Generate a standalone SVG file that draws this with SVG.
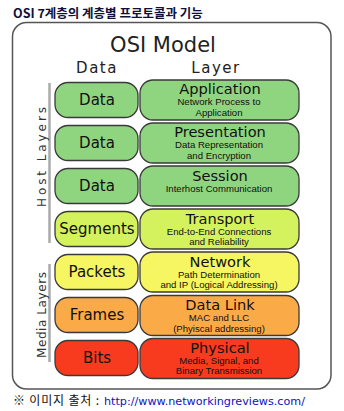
<svg xmlns="http://www.w3.org/2000/svg" width="344" height="411" viewBox="0 0 344 411">
<style>
.box{stroke:#3a3a3a;stroke-width:1.3}
.g{fill:#8fd47f}
.tr{fill:#d4f25e}
.nw{fill:#f6f562}
.dl{fill:#fbaa48}
.ph{fill:#f83b1f}
.lbl{font-family:"DejaVu Sans",sans-serif;font-size:15px;fill:#111;text-anchor:middle}
.ttl{font-family:"DejaVu Sans",sans-serif;font-size:14.6px;fill:#111;text-anchor:middle}
.sub{font-family:"Liberation Sans",Arial,sans-serif;font-size:9.6px;fill:#111;text-anchor:middle}
.hdr{font-family:"DejaVu Sans",sans-serif;font-size:15px;fill:#222;text-anchor:middle;letter-spacing:1.5px}
.side{font-family:"DejaVu Sans",sans-serif;font-size:12px;fill:#333;text-anchor:middle}
</style>
<rect width="344" height="411" fill="#fff"/>
<text x="13" y="18" font-family="'Noto Sans CJK KR','Noto Sans',sans-serif" font-size="12.5" font-weight="bold" fill="#10103a">OSI 7계층의 계층별 프로토콜과 기능</text>
<rect x="12.5" y="22.5" width="318.5" height="366.5" rx="14" fill="#fff" stroke="#555" stroke-width="1.5"/>
<text x="163" y="52" font-family="'DejaVu Sans',sans-serif" font-size="21" fill="#222" text-anchor="middle">OSI Model</text>
<text class="hdr" x="97" y="73">Data</text>
<text class="hdr" x="216" y="73">Layer</text>
<g id="side-labels">
<line x1="49.5" y1="83" x2="49.5" y2="243" stroke="#aaa" stroke-width="2.5"/>
<line x1="49.5" y1="264" x2="49.5" y2="362" stroke="#aaa" stroke-width="2.5"/>
<text class="side" transform="translate(45.5 157) rotate(-90)" textLength="100" lengthAdjust="spacing">Host Layers</text>
<text class="side" transform="translate(45.5 315) rotate(-90)" textLength="86" lengthAdjust="spacing">Media Layers</text>
</g>
<g id="connectors"></g>
<g id="application">
<rect class="box g" x="55" y="82.5" width="83" height="35" rx="13"/>
<rect class="box g" x="140" y="80" width="159" height="40" rx="13"/>
<text class="lbl" x="97" y="104.5">Data</text>
<text class="ttl" x="220" y="94">Application</text>
<text class="sub" x="219" y="105">Network Process to</text>
<text class="sub" x="219" y="115.5">Application</text>
</g>
<g id="presentation">
<rect class="box g" x="55" y="125.5" width="83" height="35" rx="13"/>
<rect class="box g" x="140" y="123" width="159" height="40" rx="13"/>
<text class="lbl" x="97" y="147.5">Data</text>
<text class="ttl" x="220" y="137">Presentation</text>
<text class="sub" x="219" y="148">Data Representation</text>
<text class="sub" x="219" y="158.5">and Encryption</text>
</g>
<g id="session">
<rect class="box g" x="55" y="168.5" width="83" height="35" rx="13"/>
<rect class="box g" x="140" y="166" width="159" height="40" rx="13"/>
<text class="lbl" x="97" y="190.5">Data</text>
<text class="ttl" x="220" y="180.5">Session</text>
<text class="sub" x="219" y="192">Interhost Communication</text>
</g>
<g id="transport">
<rect class="box tr" x="55" y="211.5" width="83" height="35" rx="13"/>
<rect class="box tr" x="140" y="209" width="159" height="40" rx="13"/>
<text class="lbl" x="97" y="234">Segments</text>
<text class="ttl" x="220" y="224">Transport</text>
<text class="sub" x="219" y="234.5">End-to-End Connections</text>
<text class="sub" x="219" y="244.5">and Reliability</text>
</g>
<g id="network">
<rect class="box nw" x="55" y="254.5" width="83" height="35" rx="13"/>
<rect class="box nw" x="140" y="252" width="159" height="40" rx="13"/>
<text class="lbl" x="97" y="277">Packets</text>
<text class="ttl" x="220" y="266.5">Network</text>
<text class="sub" x="219" y="277.5">Path Determination</text>
<text class="sub" x="219" y="288">and IP (Logical Addressing)</text>
</g>
<g id="datalink">
<rect class="box dl" x="55" y="297.5" width="83" height="35" rx="13"/>
<rect class="box dl" x="140" y="295.5" width="159" height="40" rx="13"/>
<text class="lbl" x="97" y="320">Frames</text>
<text class="ttl" x="220" y="309.5">Data Link</text>
<text class="sub" x="219" y="321">MAC and LLC</text>
<text class="sub" x="219" y="332">(Phyiscal addressing)</text>
</g>
<g id="physical">
<rect class="box ph" x="55" y="340.5" width="83" height="35" rx="13"/>
<rect class="box ph" x="140" y="338.5" width="159" height="40" rx="13"/>
<text class="lbl" x="97" y="363">Bits</text>
<text class="ttl" x="220" y="352.5">Physical</text>
<text class="sub" x="219" y="364">Media, Signal, and</text>
<text class="sub" x="219" y="374">Binary Transmission</text>
</g>
<text x="13" y="405" font-family="'Noto Sans CJK KR',sans-serif" font-size="12" fill="#111" textLength="86" lengthAdjust="spacing">※ 이미지 출처 :</text>
<text x="104" y="405" font-family="'DejaVu Sans',sans-serif" font-size="11" fill="#1010c0" textLength="201" lengthAdjust="spacingAndGlyphs">http://www.networkingreviews.com/</text>
</svg>
